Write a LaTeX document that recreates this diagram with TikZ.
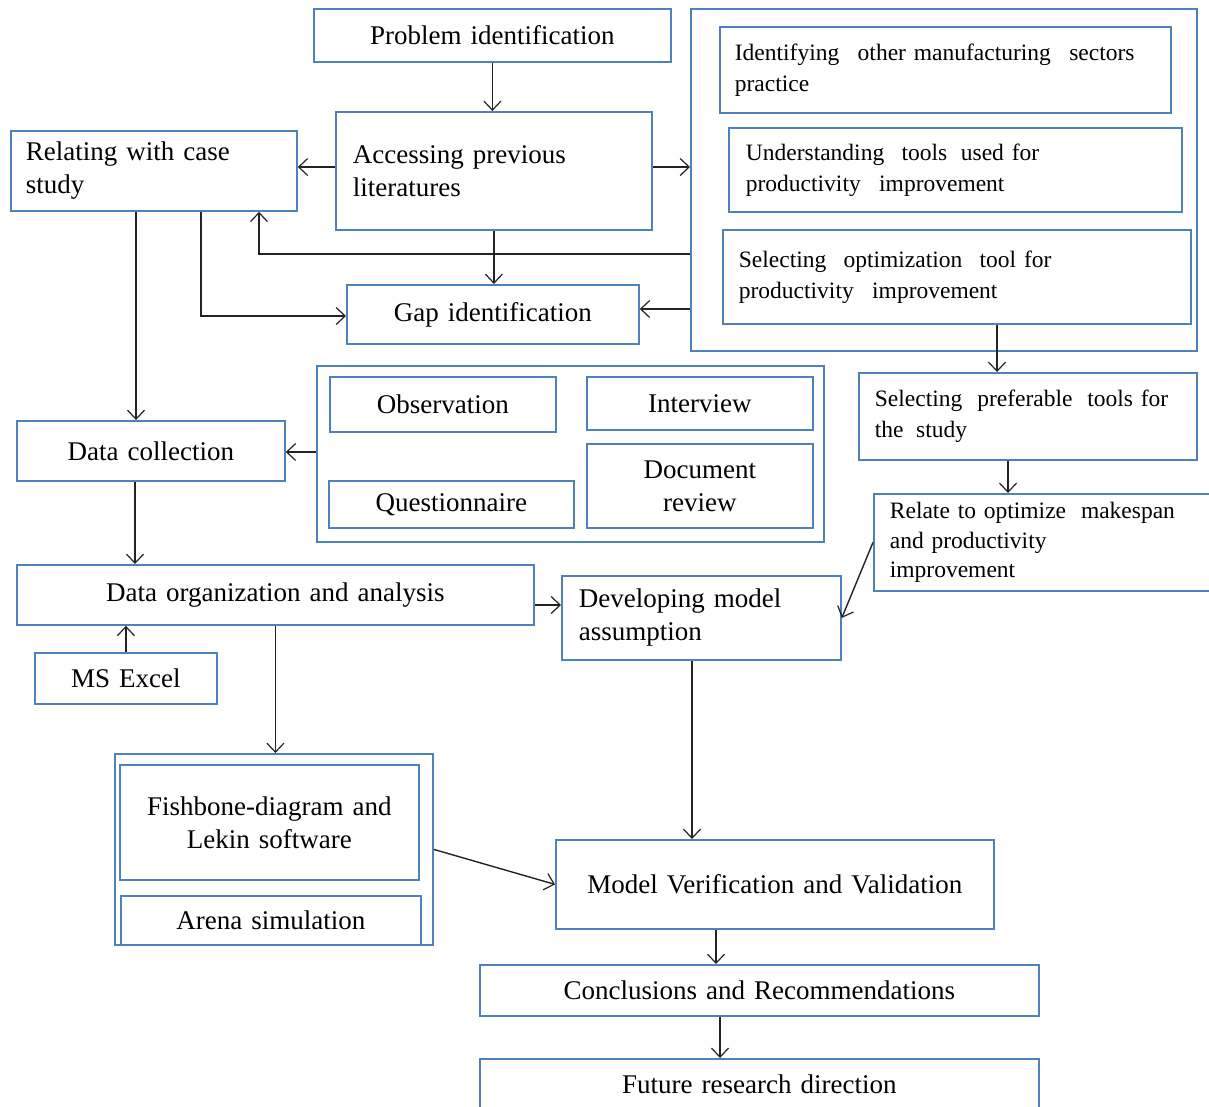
\documentclass[tikz,border=0pt]{standalone}
\usepackage{fontspec}
\setmainfont{Liberation Serif}
\usetikzlibrary{arrows.meta}
\definecolor{boxblue}{RGB}{79,129,189}
\definecolor{lnc}{RGB}{35,35,35}
\newcommand{\bigf}{\fontsize{27}{33}\selectfont}
\newcommand{\smf}{\fontsize{23.5}{31}\selectfont}
\begin{document}
\begin{tikzpicture}[x=1pt,y=-1pt,
  bx/.style={draw=boxblue, line width=1.8pt, inner sep=0pt, anchor=north west, font=\bigf},
  sbx/.style={bx, font=\smf},
  arr/.style={draw=lnc, line width=1.4pt, -{Straight Barb[length=9pt,width=17pt,line width=1.2pt]}},
  ln/.style={draw=lnc, line width=1.4pt}]
\useasboundingbox[fill=white] (0,0) rectangle (1209,1106);

% top section
\node[bx, minimum width=357, minimum height=53, text width=340, align=center] (prob) at (313,8) {Problem identification};
\node[bx, minimum width=316, minimum height=118, text width=282, align=left] (acc) at (335,111) {Accessing previous\\literatures};
\node[bx, minimum width=286, minimum height=80, text width=256, align=left] (rel) at (10,130) {Relating with case\\study};
\node[bx, minimum width=292, minimum height=59, text width=280, align=center] (gap) at (346,284) {Gap identification};

% right container
\node[bx, minimum width=506, minimum height=342] (rc) at (690,8) {};
\node[sbx, minimum width=451, minimum height=86, text width=421, align=left] (ident) at (719,26) {Identifying\hspace{0.45em} other manufacturing\hspace{0.45em} sectors\\practice};
\node[sbx, minimum width=453, minimum height=84, text width=419, align=left] (under) at (728,127) {Understanding\hspace{0.4em} tools\hspace{0.25em} used for\\productivity\hspace{0.45em} improvement};
\node[sbx, minimum width=468, minimum height=94, text width=436, align=left] (selopt) at (722,229) {Selecting\hspace{0.4em} optimization\hspace{0.4em} tool for\\productivity\hspace{0.45em} improvement};

\node[sbx, minimum width=338, minimum height=87, text width=306, align=left] (selpref) at (858,372) {Selecting\hspace{0.3em} preferable\hspace{0.3em} tools for\\the\hspace{0.2em} study};
\node[sbx, minimum width=336, minimum height=97, text width=304, align=left, font=\fontsize{23.5}{29.5}\selectfont] (relate) at (873,493) {Relate to optimize\hspace{0.3em} makespan\\and productivity\\improvement};

% data sources
\node[bx, minimum width=507, minimum height=176] (dcont) at (316,365) {};
\node[bx, minimum width=226, minimum height=55, text width=210, align=center] (obs) at (329,376) {Observation};
\node[bx, minimum width=226, minimum height=53, text width=210, align=center] (intv) at (586,376) {Interview};
\node[bx, minimum width=245, minimum height=47, text width=230, align=center] (quest) at (328,480) {Questionnaire};
\node[bx, minimum width=226, minimum height=84, text width=210, align=center] (docr) at (586,443) {Document\\review};

\node[bx, minimum width=268, minimum height=60, text width=250, align=center] (dcoll) at (16,420) {Data collection};
\node[bx, minimum width=517, minimum height=60, text width=500, align=center] (dorg) at (16,564) {Data organization and analysis};
\node[bx, minimum width=182, minimum height=51, text width=170, align=center] (excel) at (34,652) {MS Excel};
\node[bx, minimum width=279, minimum height=84, text width=245, align=left] (dev) at (561,575) {Developing model\\assumption};

% tools
\node[bx, minimum width=318, minimum height=191] (fishc) at (114,753) {};
\node[bx, minimum width=299, minimum height=115, text width=285, align=center] (fish) at (119,764) {Fishbone-diagram and\\Lekin software};
\node[bx, minimum width=300, minimum height=49, text width=285, align=center] (arena) at (120,895) {Arena simulation};

\node[bx, minimum width=438, minimum height=89, text width=420, align=center] (mv) at (555,839) {Model Verification and Validation};
\node[bx, minimum width=559, minimum height=51, text width=540, align=center] (concl) at (479,964) {Conclusions and Recommendations};
\node[bx, minimum width=559, minimum height=50, text width=540, align=center] (fut) at (479,1058) {Future research direction};

% junction coordinates
\coordinate (j1) at (259,254);
\coordinate (j2) at (690,309);
\coordinate (j3) at (201,316);
\coordinate (j4) at (136,0);
\coordinate (j5) at (997,0);
\coordinate (j6) at (1008,0);
\coordinate (j7) at (135,0);
\coordinate (j8) at (0,605);
\coordinate (j9) at (692,0);
\coordinate (j10) at (716,0);
\coordinate (j11) at (720,0);
\coordinate (j12) at (0,167);
\coordinate (j13) at (0,452);

% connectors
\draw[arr] (prob.south) -- (prob.south |- acc.north);
\draw[arr] (acc.west |- j12) -- (rel.east |- j12);
\draw[arr] (acc.east |- j12) -- (rc.west |- j12);
\draw[arr] (acc.south) -- (acc.south |- gap.north);
\draw[arr] (rc.west |- j1) -- (j1) -- (j1 |- rel.south);
\draw[arr] (rc.west |- j2) -- (gap.east |- j2);
\draw[arr] (rel.south -| j3) -- (j3) -- (j3 -| gap.west);
\draw[arr] (rel.south -| j4) -- (j4 |- dcoll.north);
\draw[arr] (selopt.south -| j5) -- (j5 |- selpref.north);
\draw[arr] (selpref.south -| j6) -- (j6 |- relate.north);
\draw[arr] (relate.west) -- (dev.east);
\draw[arr] (dcont.west |- j13) -- (dcoll.east |- j13);
\draw[arr] (dcoll.south -| j7) -- (j7 |- dorg.north);
\draw[arr] (excel.north) -- (excel.north |- dorg.south);
\draw[arr] (dorg.east |- j8) -- (dev.west |- j8);
\draw[arr] (dorg.south) -- (dorg.south |- fishc.north);
\draw[arr] (dev.south -| j9) -- (j9 |- mv.north);
\draw[arr] (fishc.east) -- (mv.west);
\draw[arr] (mv.south -| j10) -- (j10 |- concl.north);
\draw[arr] (concl.south -| j11) -- (j11 |- fut.north);
\end{tikzpicture}
\end{document}
